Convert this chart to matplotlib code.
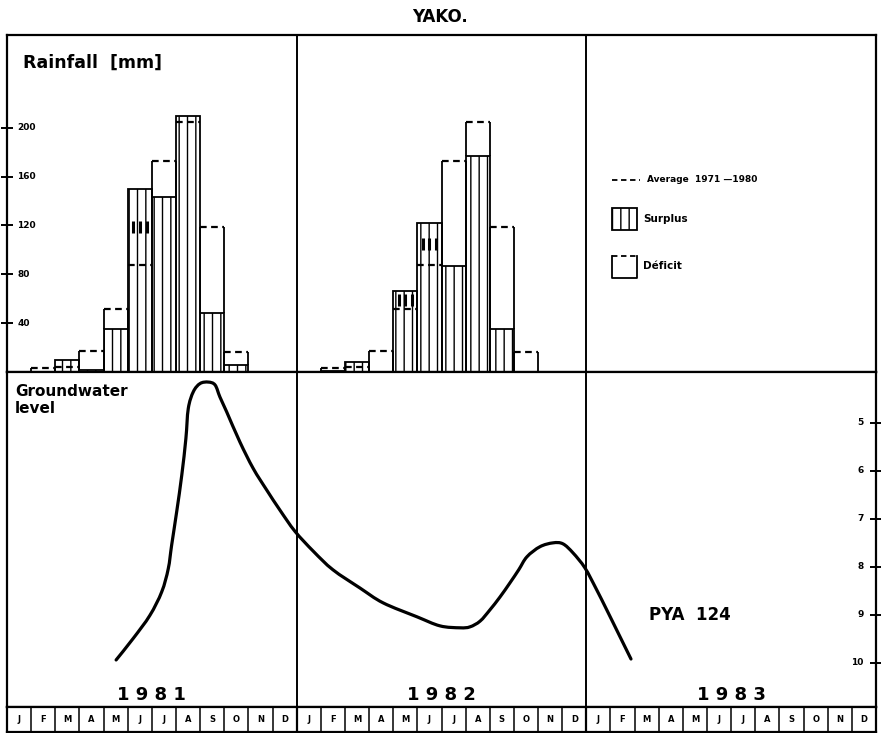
import matplotlib
matplotlib.use('Agg')
import matplotlib.pyplot as plt
import numpy as np
from matplotlib.lines import Line2D
from matplotlib.patches import Rectangle, PathPatch
from matplotlib.path import Path

# monthly rainfall (mm) at Yako
month_labels = ['J', 'F', 'M', 'A', 'M', 'J', 'J', 'A', 'S', 'O', 'N', 'D']
year_labels = ['1 9 8 1', '1 9 8 2', '1 9 8 3']
rain_1981 = [0, 0, 10, 2, 35, 150, 143, 210, 48, 6, 0, 0]
rain_1982 = [0, 1, 8, 0, 66, 122, 87, 177, 35, 0, 0, 0]
rain_avg = [0, 3, 4, 17, 52, 88, 173, 205, 119, 16, 0, 0]
rain_ticks = [40, 80, 120, 160, 200]

# piezometer PYA 124, depth of water table (m), time in months from Jan 1981
gw_month = [4.52, 5.23, 5.92, 6.41, 6.68, 6.82, 7.03, 7.24, 7.41, 7.51, 7.72, 8.0,
            8.34, 8.62, 8.82, 9.10, 9.65, 10.20, 10.76, 11.31, 11.93, 12.7, 13.5,
            14.62, 15.58, 16.98, 17.94, 18.77, 19.18, 19.6, 20.0, 20.42, 20.84,
            21.2, 21.54, 22.08, 22.62, 23.03, 23.45, 23.94, 24.4, 24.85, 25.35, 25.85]
gw_depth = [9.94, 9.49, 9.01, 8.52, 8.04, 7.55, 6.85, 6.09, 5.33, 4.70, 4.35, 4.18,
            4.15, 4.21, 4.46, 4.77, 5.40, 5.95, 6.40, 6.82, 7.26, 7.68, 8.06,
            8.44, 8.75, 9.04, 9.23, 9.27, 9.25, 9.13, 8.90, 8.63, 8.33,
            8.06, 7.79, 7.58, 7.50, 7.52, 7.71, 8.02, 8.45, 8.90, 9.41, 9.92]
gw_ticks = [5, 6, 7, 8, 9, 10]

W, H = 881, 733
X0, X1 = 7, 876          # frame left / right (px)
Y_TOP, Y_MID, Y_BOT, Y_STRIP = 35, 372, 707, 732


def fig_x(px):
    return px / W


def fig_y(py):
    return 1 - py / H


def smooth_path(xs, ys):
    # Catmull-Rom through the points, written as cubic Bezier segments
    p = np.column_stack([xs, ys])
    verts, codes = [p[0]], [Path.MOVETO]
    n = len(p)
    for i in range(n - 1):
        p0 = p[i - 1] if i > 0 else p[i]
        p3 = p[i + 2] if i + 2 < n else p[i + 1]
        c1 = p[i] + (p[i + 1] - p0) / 6
        c2 = p[i + 1] - (p3 - p[i]) / 6
        verts += [c1, c2, p[i + 1]]
        codes += [Path.CURVE4] * 3
    return Path(verts, codes)


plt.rcParams['hatch.linewidth'] = 1.0
fig = plt.figure(figsize=(W / 100, H / 100), dpi=100)

ax1 = fig.add_axes([fig_x(X0), fig_y(Y_MID), fig_x(X1 - X0), (Y_MID - Y_TOP) / H])
ax2 = fig.add_axes([fig_x(X0), fig_y(Y_BOT), fig_x(X1 - X0), (Y_BOT - Y_MID) / H])
ax3 = fig.add_axes([fig_x(X0), fig_y(Y_STRIP), fig_x(X1 - X0), (Y_STRIP - Y_BOT) / H])

for ax in (ax1, ax2, ax3):
    ax.set_xlim(0, 36)
    ax.set_xticks([])
    for s in ax.spines.values():
        s.set_linewidth(1.6)

# ---- rainfall bars ----
ax1.set_ylim(0, 276)
dash = (0, (3, 2))
for yi, rain in enumerate([rain_1981, rain_1982]):
    for mi in range(12):
        x = yi * 12 + mi
        r, a = rain[mi], rain_avg[mi]
        if r > 0:
            ax1.bar(x, r, width=1, align='edge', fill=False, hatch='||',
                    edgecolor='black', linewidth=1.3)
        if a > r:
            # deficit: open box up to the average
            ax1.vlines([x, x + 1], r, a, color='black', lw=1.3)
            ax1.hlines(a, x, x + 1, color='black', lw=1.6, linestyles=dash)
        elif a > 0:
            ax1.hlines(a, x, x + 1, color='black', lw=1.6, linestyles=dash)
            if r - a > 10:
                ax1.plot([x + 0.22, x + 0.5, x + 0.78], [(r + a) / 2] * 3, ls='none',
                         marker='|', ms=9, mew=2.2, color='black')

ax1.set_yticks(rain_ticks)
ax1.set_yticklabels([])
ax1.tick_params(axis='y', direction='inout', length=9, width=1.4)
for t in rain_ticks:
    ax1.text(0.012, t, str(t), transform=ax1.get_yaxis_transform(), ha='left',
             va='center', fontsize=6.5, fontweight='bold')
for xv in (12, 24):
    ax1.axvline(xv, color='black', lw=1.4)

# legend inside the 1983 column
lx0, lx1 = (612 - X0) / (X1 - X0), (637 - X0) / (X1 - X0)
ty = lambda py: (Y_MID - py) / (Y_MID - Y_TOP)
ax1.add_line(Line2D([lx0, (640 - X0) / (X1 - X0)], [ty(180)] * 2, transform=ax1.transAxes,
                    color='black', lw=1.3, ls=dash))
ax1.text((647 - X0) / (X1 - X0), ty(180), 'Average  1971 \u20141980', transform=ax1.transAxes,
         ha='left', va='center', fontsize=6.5, fontweight='bold')
ax1.add_patch(Rectangle((lx0, ty(230)), lx1 - lx0, ty(208) - ty(230), transform=ax1.transAxes,
                        fill=False, hatch='||', lw=1.3, edgecolor='black'))
ax1.text((643 - X0) / (X1 - X0), ty(219), 'Surplus', transform=ax1.transAxes,
         ha='left', va='center', fontsize=7.5, fontweight='bold')
ax1.add_line(Line2D([lx0, lx0, lx1, lx1], [ty(256), ty(278), ty(278), ty(256)],
                    transform=ax1.transAxes, color='black', lw=1.3))
ax1.add_line(Line2D([lx0, lx1], [ty(256)] * 2, transform=ax1.transAxes,
                    color='black', lw=1.3, ls=dash))
ax1.text((643 - X0) / (X1 - X0), ty(266), 'D\u00e9ficit', transform=ax1.transAxes,
         ha='left', va='center', fontsize=7.5, fontweight='bold')

# ---- groundwater level ----
ax2.set_ylim(10.92, 3.94)
ax2.add_patch(PathPatch(smooth_path(gw_month, gw_depth), fill=False, edgecolor='black',
                        lw=2.3, capstyle='round', joinstyle='round'))
ax2.yaxis.tick_right()
ax2.set_yticks(gw_ticks)
ax2.set_yticklabels([])
ax2.tick_params(axis='y', direction='inout', length=9, width=1.4)
for t in gw_ticks:
    ax2.text(0.986, t, str(t), transform=ax2.get_yaxis_transform(), ha='right',
             va='center', fontsize=6.5, fontweight='bold')
for xv in (12, 24):
    ax2.axvline(xv, color='black', lw=1.4)
for yi, lab in enumerate(year_labels):
    ax2.text(yi * 12 + 6, 10.66, lab, ha='center', va='center', fontsize=13,
             fontweight='bold')
ax2.text(26.6, 9.0, 'PYA  124', ha='left', va='center', fontsize=12, fontweight='bold')

# ---- month strip ----
ax3.set_ylim(0, 1)
ax3.set_yticks([])
for xv in range(1, 36):
    ax3.axvline(xv, color='black', lw=1.6 if xv % 12 == 0 else 1.1)
for i in range(36):
    ax3.text(i + 0.5, 0.5, month_labels[i % 12], ha='center', va='center',
             fontsize=6, fontweight='bold')

# ---- titles ----
fig.text(0.5, fig_y(17), 'YAKO.', ha='center', va='center', fontsize=12, fontweight='bold')
fig.text(fig_x(23), fig_y(63), 'Rainfall  [mm]', ha='left', va='center',
         fontsize=12.5, fontweight='bold')
fig.text(fig_x(15), fig_y(384), 'Groundwater\nlevel', ha='left', va='top',
         fontsize=11, fontweight='bold', linespacing=1.15)

fig.savefig('out.png', dpi=100)
